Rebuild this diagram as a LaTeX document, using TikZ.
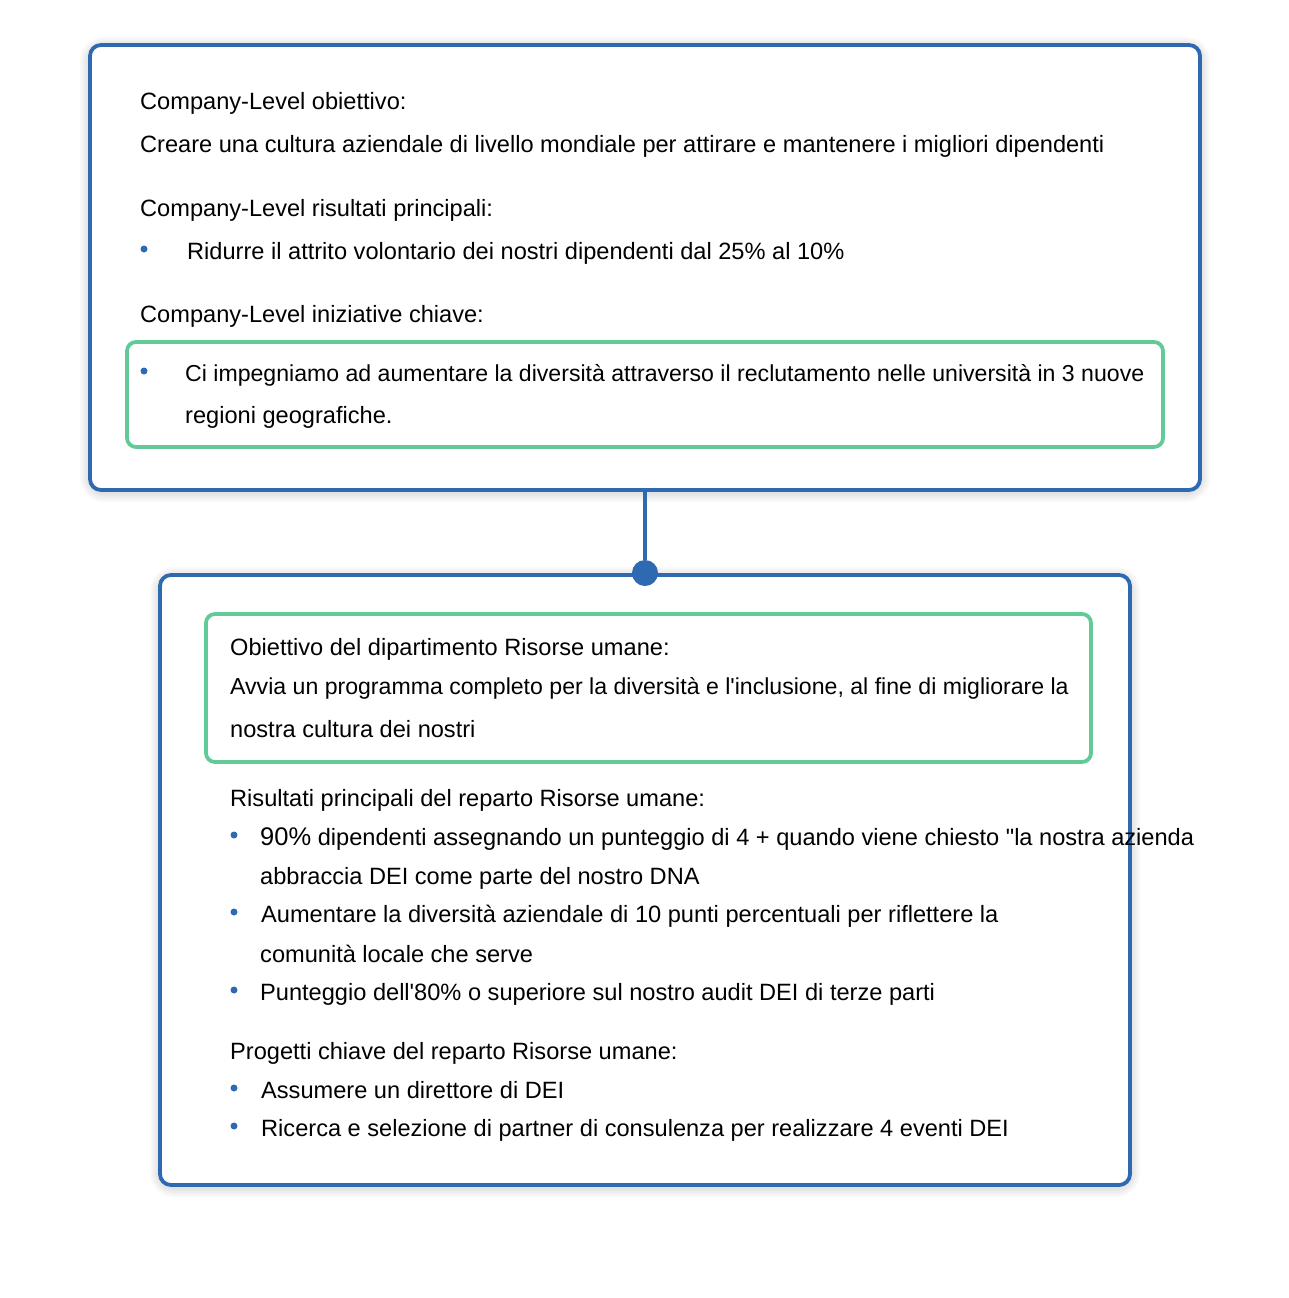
\documentclass[tikz,border=0pt]{standalone}
\usepackage{fontspec}
\setmainfont{Liberation Sans}[Ligatures=TeXOff]
\definecolor{okrblue}{HTML}{2E69B2}
\definecolor{okrgreen}{HTML}{62CA98}
\begin{document}
\begin{tikzpicture}[x=1pt,y=-1pt,
  outerbox/.style={draw=okrblue,line width=3.8pt,rounded corners=11pt,fill=white,inner sep=0pt},
  innerbox/.style={draw=okrgreen,line width=3.8pt,rounded corners=9pt,inner sep=0pt},
  txt/.style={anchor=base west,inner sep=0pt,font=\fontsize{23.6}{28}\selectfont},
  tighttxt/.style={txt,font=\fontsize{23.1}{28}\selectfont},
  bul/.style={circle,fill=okrblue,inner sep=0pt,minimum size=7pt},
  halo/.style={draw=black,opacity=0.025,line width=#1,rounded corners=14pt}]
\useasboundingbox (0,0) rectangle (1288,1298);
% soft shadows
\foreach \w in {4,8,12,16,20} {
  \draw[halo=\w pt] (90,47) rectangle (1200,492);
  \draw[halo=\w pt] (160,577) rectangle (1130,1187);
}
% company level box
\node[outerbox,minimum width=1110pt,minimum height=445pt] (company) at (645,267.5) {};
\node[txt] (cobj) at (140,109) {Company-Level obiettivo:};
\node[txt] (cobjtxt) at (140,152) {Creare una cultura aziendale di livello mondiale per attirare e mantenere i migliori dipendenti};
\node[txt] (ckr) at (140,216) {Company-Level risultati principali:};
\node[bul] (ckrb) at (144,249) {};
\node[txt] (ckrtxt) at (187,259) {Ridurre il attrito volontario dei nostri dipendenti dal 25\% al 10\%};
\node[txt] (cki) at (140,322) {Company-Level iniziative chiave:};
\node[innerbox,minimum width=1036pt,minimum height=105pt] (keyinit) at (645,394.5) {};
\node[bul] (ckib) at (144,371) {};
\node[tighttxt] (ckitxt) at (185,381) {Ci impegniamo ad aumentare la diversità attraverso il reclutamento nelle università in 3 nuove};
\node[txt] (ckitxtb) at (185,423) {regioni geografiche.};
% hr department box
\node[outerbox,minimum width=970pt,minimum height=610pt] (dept) at (645,880) {};
\node[innerbox,minimum width=885pt,minimum height=148pt] (hrobj) at (648.5,688) {};
\node[txt] (hobj) at (230,655) {Obiettivo del dipartimento Risorse umane:};
\node[tighttxt] (hobjtxt) at (230,694) {Avvia un programma completo per la diversità e l'inclusione, al fine di migliorare la};
\node[txt] (hobjtxtb) at (230,737) {nostra cultura dei nostri};
\node[txt] (hkr) at (230,806) {Risultati principali del reparto Risorse umane:};
\node[bul] (hkrb1) at (234,835) {};
\node[txt] (hkr1) at (260,845) {{\fontsize{25.5}{30}\selectfont 90\%} dipendenti assegnando un punteggio di 4 + quando viene chiesto "la nostra azienda};
\node[txt] (hkr1b) at (260,884) {abbraccia DEI come parte del nostro DNA};
\node[bul] (hkrb2) at (234,912) {};
\node[txt] (hkr2) at (261,922) {Aumentare la diversità aziendale di 10 punti percentuali per riflettere la};
\node[txt] (hkr2b) at (260,962) {comunità locale che serve};
\node[bul] (hkrb3) at (234,990) {};
\node[txt] (hkr3) at (260,1000) {Punteggio dell'80\% o superiore sul nostro audit DEI di terze parti};
\node[txt] (hkp) at (230,1059) {Progetti chiave del reparto Risorse umane:};
\node[bul] (hkpb1) at (234,1088) {};
\node[txt] (hkp1) at (261,1098) {Assumere un direttore di DEI};
\node[bul] (hkpb2) at (234,1126) {};
\node[txt] (hkp2) at (261,1136) {Ricerca e selezione di partner di consulenza per realizzare 4 eventi DEI};
% connector
\node[circle,fill=okrblue,inner sep=0pt,minimum size=26pt] (link) at (645,573) {};
\draw[okrblue,line width=3.8pt] (company.south) -- (link);
\end{tikzpicture}
\end{document}
